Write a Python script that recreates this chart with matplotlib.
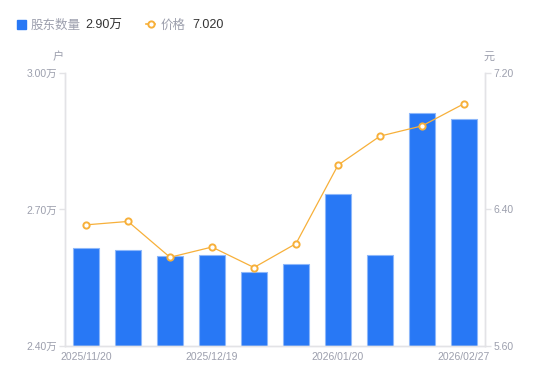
import matplotlib
matplotlib.use("Agg")
import matplotlib.pyplot as plt
from matplotlib.lines import Line2D
import numpy as np

plt.rcParams['font.family'] = ['Liberation Sans', 'Noto Sans CJK SC', 'DejaVu Sans']

# ---- data ----
x_labels = ["2025/11/20", "", "", "2025/12/19", "", "", "2026/01/20", "", "", "2026/02/27"]
holders = [2.615, 2.612, 2.598, 2.600, 2.563, 2.580, 2.733, 2.599, 2.911, 2.900]  # 万户
price = [6.31, 6.33, 6.12, 6.18, 6.06, 6.20, 6.66, 6.83, 6.89, 7.02]
left_ticks = [2.40, 2.70, 3.00]
right_ticks = [5.60, 6.40, 7.20]

BLUE = "#2878F5"
EDGE = "#8DB7FA"
ORANGE = "#F7B03A"
GRID = "#E3E3E6"
TXT = "#9C9FAD"
CJK = ['Noto Sans CJK SC', 'DejaVu Sans']

fig = plt.figure(figsize=(5.5, 3.81), dpi=100)
W, H = 550, 381
ax = fig.add_axes([65 / W, 1 - 346 / H, 420 / W, 273 / H])
ax2 = ax.twinx()

x = np.arange(len(holders))
ax.bar(x, np.array(holders) - 2.40, bottom=2.40, width=0.6, color=BLUE,
       edgecolor=EDGE, linewidth=0.8, zorder=2)
ax.set_xlim(-0.5, len(holders) - 0.5)
ax.set_ylim(2.40, 3.00)
ax.set_yticks(left_ticks)
ax.set_yticklabels([f"{v:.2f}万" for v in left_ticks])

ax2.plot(x, price, color=ORANGE, linewidth=0.9, marker="o", markersize=4.5,
         markerfacecolor="white", markeredgecolor=ORANGE, markeredgewidth=1.4, zorder=3)
ax2.set_ylim(5.60, 7.20)
ax2.set_yticks(right_ticks)
ax2.set_yticklabels([f"{v:.2f}" for v in right_ticks])

tick_pos = [i for i, l in enumerate(x_labels) if l]
ax.set_xticks(tick_pos)
ax.set_xticklabels([x_labels[i] for i in tick_pos])

for a in (ax, ax2):
    a.spines['top'].set_visible(False)
    for s in ('left', 'right', 'bottom'):
        a.spines[s].set_color(GRID)
        a.spines[s].set_linewidth(1.0)
    a.tick_params(axis='y', colors=GRID, labelcolor=TXT, labelsize=7.5, length=4, width=1, pad=2)
ax.tick_params(axis='x', length=0, labelcolor=TXT, labelsize=7.5, pad=4)

# unit labels
fig.text(58 / W, 1 - 57 / H, "户", color=TXT, fontsize=8, ha='center', va='center', family=CJK)
fig.text(489 / W, 1 - 57 / H, "元", color=TXT, fontsize=8, ha='center', va='center', family=CJK)

# legend (custom)
fig.patches.append(plt.Rectangle((17 / W, 1 - 28.5 / H), 8.5 / W, 8.5 / H, transform=fig.transFigure,
                                 color=BLUE, figure=fig))
fig.text(31 / W, 1 - 24 / H, "股东数量", color=TXT, fontsize=9, ha='left', va='center_baseline', family=CJK)
fig.text(85 / W, 1 - 24 / H, "2.90万", color="#333333", fontsize=9, ha='left', va='center_baseline')
fig.lines.append(Line2D([146 / W, 155 / W], [1 - 24 / H, 1 - 24 / H], transform=fig.transFigure,
                        color=ORANGE, linewidth=1.2))
fig.lines.append(Line2D([150.5 / W], [1 - 24 / H], transform=fig.transFigure, color=ORANGE,
                        marker="o", markersize=4.5, markerfacecolor="white", markeredgewidth=1.4))
fig.text(161 / W, 1 - 24 / H, "价格", color=TXT, fontsize=9, ha='left', va='center_baseline', family=CJK)
fig.text(192 / W, 1 - 24 / H, "7.020", color="#333333", fontsize=9, ha='left', va='center_baseline')

fig.savefig("out.png", dpi=100)
